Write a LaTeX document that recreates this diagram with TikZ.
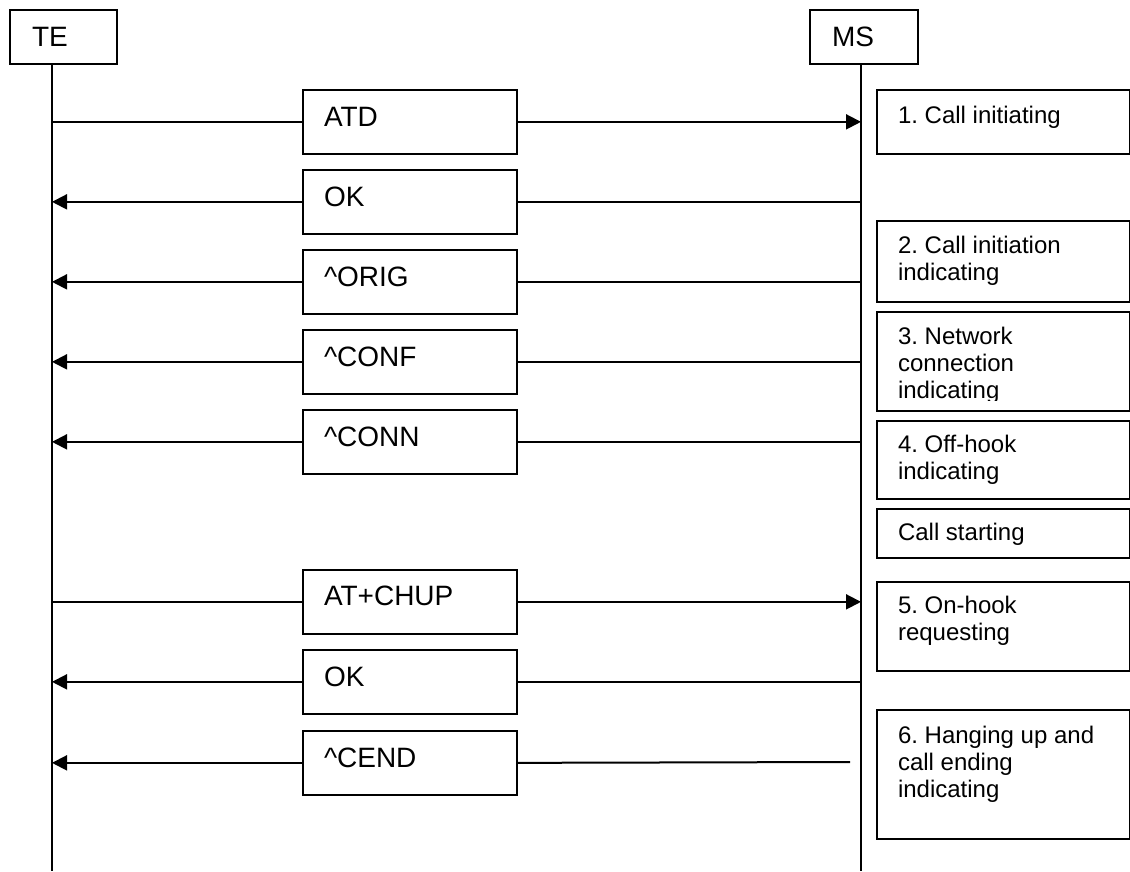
\documentclass[tikz,border=0pt]{standalone}
\usepackage{fontspec}
\setmainfont{Liberation Sans}
\usetikzlibrary{arrows.meta}
\frenchspacing
\begin{document}
\begin{tikzpicture}[x=1pt,y=-1pt,line width=2pt,
  box/.style={draw,line width=1.7pt,inner sep=0pt,anchor=north west},
  msgbox/.style={box,minimum width=214pt,minimum height=64pt},
  msgtxt/.style={anchor=base west,inner sep=0pt,font=\fontsize{28}{33}\selectfont},
  notebox/.style={box,minimum width=253pt},
  notetxt/.style={anchor=base west,inner sep=0pt,align=left,font=\fontsize{24}{27}\selectfont},
  arr/.style={-{Triangle[length=15pt,width=15pt]}}]
\useasboundingbox (0,0) rectangle (1130,871);
% actors
\node[box,minimum width=107pt,minimum height=54pt] (TE) at (9,9) {};
\node[msgtxt] (TEt) at (31,46) {TE};
\node[box,minimum width=108pt,minimum height=54pt] (MS) at (809,9) {};
\node[msgtxt] (MSt) at (831,46) {MS};
\coordinate (TEtop) at (52,63);
\coordinate (TEbot) at (52,871);
\coordinate (MStop) at (861,63);
\coordinate (MSbot) at (861,871);
\draw (TEtop) -- (TEbot);
\draw (MStop) -- (MSbot);
% messages
\node[msgbox] (m1) at (302,89) {};  \node[msgtxt] at (323,126) {ATD};
\node[msgbox] (m2) at (302,169) {}; \node[msgtxt] at (323,206) {OK};
\node[msgbox] (m3) at (302,249) {}; \node[msgtxt] at (323,286) {\textasciicircum ORIG};
\node[msgbox] (m4) at (302,329) {}; \node[msgtxt] at (323,366) {\textasciicircum CONF};
\node[msgbox] (m5) at (302,409) {}; \node[msgtxt] at (323,446) {\textasciicircum CONN};
\node[msgbox] (m6) at (302,569) {}; \node[msgtxt] at (323,605) {AT+CHUP};
\node[msgbox] (m7) at (302,649) {}; \node[msgtxt] at (323,686) {OK};
\node[msgbox] (m8) at (302,730) {}; \node[msgtxt] at (323,767) {\textasciicircum CEND};
\coordinate (c8) at (850,762);
% connectors
\draw (TEtop |- m1.west) -- (m1.west);
\draw[arr] (m1.east) -- (MStop |- m1.east);
\foreach \m in {m2,m3,m4,m5,m7}{
  \draw (MStop |- \m.east) -- (\m.east);
  \draw[arr] (\m.west) -- (TEtop |- \m.west);
}
\draw (TEtop |- m6.west) -- (m6.west);
\draw[arr] (m6.east) -- (MStop |- m6.east);
\draw (c8) -- (m8.east);
\draw[arr] (m8.west) -- (TEtop |- m8.west);
% notes (anchor = baseline of the last line)
\node[notebox,minimum height=64pt] (n1) at (876,89) {};
\node[notetxt] at (897,123) {1. Call initiating};
\node[notebox,minimum height=81pt] (n2) at (876,220) {};
\node[notetxt] at (897,280) {2. Call initiation\\indicating};
\node[notebox,minimum height=99pt] (n3) at (876,311) {};
\begin{scope}
\clip (876,311) rectangle (1129,400);
\node[notetxt] at (897,398) {3. Network\\connection\\indicating};
\end{scope}
\node[notebox,minimum height=78pt] (n4) at (876,420) {};
\node[notetxt] at (897,479) {4. Off-hook\\indicating};
\node[notebox,minimum height=49pt] (ns) at (876,508) {};
\node[notetxt] at (897,540) {Call starting};
\node[notebox,minimum height=89pt] (n5) at (876,581) {};
\node[notetxt] at (897,640) {5. On-hook\\requesting};
\node[notebox,minimum height=129pt] (n6) at (876,709) {};
\node[notetxt] at (897,797) {6. Hanging up and\\call ending\\indicating};
\end{tikzpicture}
\end{document}
